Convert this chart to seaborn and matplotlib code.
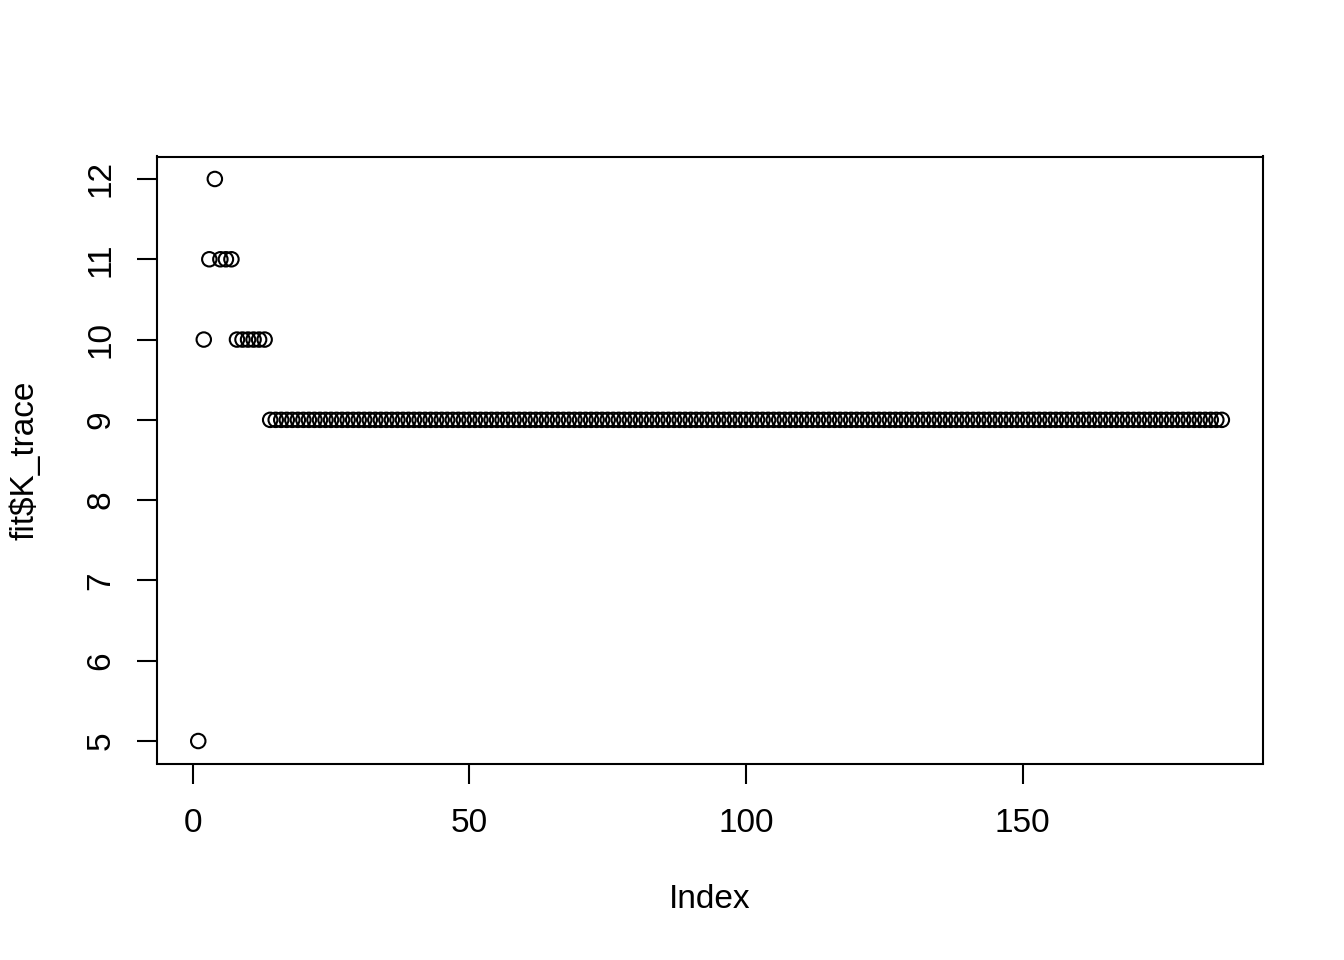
import pandas
import seaborn as sns
import matplotlib.pyplot as plt

# K trace values (index 1..186)
k_start = [5, 10, 11, 12, 11, 11, 11, 10, 10, 10, 10, 10, 10]
k_rest = [9] * 173
k_trace = k_start + k_rest
index = list(range(1, len(k_trace) + 1))
x_ticks = [0, 50, 100, 150]
y_ticks = [5, 6, 7, 8, 9, 10, 11, 12]

d = pandas.DataFrame({'Index': index, 'K': k_trace})

sns.set_style('white')
plt.rcParams['font.family'] = ['Liberation Sans', 'DejaVu Sans']
plt.rcParams['font.size'] = 12
plt.rcParams['text.color'] = 'black'
plt.rcParams['axes.labelcolor'] = 'black'

fig = plt.figure(figsize=(6.72, 4.8), dpi=200)
ax = fig.add_axes([157.3 / 1344, 1 - 763.5 / 960, (1262.8 - 157.3) / 1344, (763.5 - 156.5) / 960])

sns.scatterplot(data=d, x='Index', y='K', ax=ax, marker='o', s=27,
                facecolor='none', edgecolor='black', linewidth=0.75, legend=False)

# R style axis ranges (4% padding)
n = len(k_trace)
xpad = 0.04 * (n - 1)
ax.set_xlim(1 - xpad, n + xpad)
ypad = 0.04 * (max(k_trace) - min(k_trace))
ax.set_ylim(min(k_trace) - ypad, max(k_trace) + ypad)

ax.set_xticks(x_ticks)
ax.set_yticks(y_ticks)
ax.tick_params(axis='both', direction='out', length=7.2, width=0.75,
               labelsize=12, color='black', labelcolor='black', bottom=True, left=True)
ax.tick_params(axis='x', pad=9)
ax.tick_params(axis='y', pad=7.5)
for lab in ax.get_yticklabels():
    lab.set_rotation(90)
    lab.set_va('center')

for sp in ax.spines.values():
    sp.set_visible(True)
    sp.set_color('black')
    sp.set_linewidth(0.75)

ax.set_xlabel('Index', fontsize=12, color='black')
ax.set_ylabel('fit$K_trace', fontsize=12, color='black')
ax.xaxis.set_label_coords(0.5, (763.5 - 899) / 607)
ax.xaxis.label.set_va('center')
ax.yaxis.set_label_coords((25 - 157.3) / 1105.5, 0.5)
ax.yaxis.label.set_va('center')

fig.savefig('out.png', dpi=200)
